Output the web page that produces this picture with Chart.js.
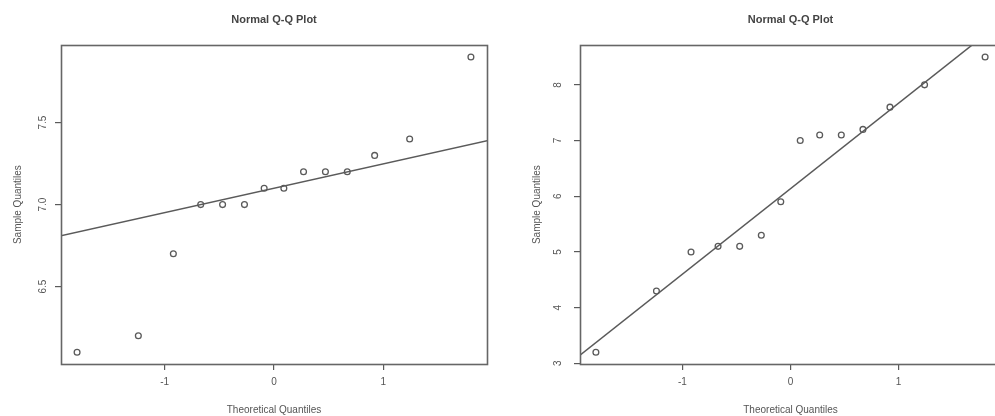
<!DOCTYPE html>
<html lang="en">
<head>
    <meta charset="UTF-8">
    <script src="https://cdn.jsdelivr.net/npm/chart.js@4.4.1/dist/chart.umd.min.js"></script>
    <title>Normal Q-Q Plots</title>
    <style>
        html, body {
            margin: 0;
            padding: 0;
            background: #fff;
            overflow: hidden;
            width: 995px;
            height: 416px;
        }

        #qqLeft, #qqRight {
            position: absolute;
            top: 0;
        }

        #qqLeft { left: 0; }
        #qqRight { left: 497px; }
    </style>
</head>
<body>
    <canvas id="qqLeft" width="497" height="416"></canvas>
    <canvas id="qqRight" width="530" height="416"></canvas>
    <script>
        // theoretical normal quantiles (same 14 positions in both plots)
        const theoretical = [-1.80, -1.24, -0.92, -0.67, -0.47, -0.27, -0.09, 0.09, 0.27, 0.47, 0.67, 0.92, 1.24, 1.80];

        // sorted sample values
        const sampleLeft = [6.1, 6.2, 6.7, 7.0, 7.0, 7.0, 7.1, 7.1, 7.2, 7.2, 7.2, 7.3, 7.4, 7.9];
        const sampleRight = [3.2, 4.3, 5.0, 5.1, 5.1, 5.3, 5.9, 7.0, 7.1, 7.1, 7.2, 7.6, 8.0, 8.5];

        // reference line ends (qqline)
        const lineX = [-1.95, 1.95];
        const lineLeftY = [6.81, 7.39];
        const lineRightY = [3.14, 9.13];

        // ticks
        const xTicks = [-1, 0, 1];
        const xTickLabels = ['\u22121', '0', '1'];
        const yTicksLeft = [6.5, 7.0, 7.5];
        const yTickLabelsLeft = ['6.5', '7.0', '7.5'];
        const yTicksRight = [3, 4, 5, 6, 7, 8];
        const yTickLabelsRight = ['3', '4', '5', '6', '7', '8'];

        const ink = '#5a5a5a';
        const fontFamily = '"Liberation Sans", Arial, Helvetica, sans-serif';

        // R draws a full box round the plot region
        const boxPlugin = {
            id: 'box',
            afterDraw(chart) {
                const a = chart.chartArea;
                const ctx = chart.ctx;
                ctx.save();
                ctx.strokeStyle = '#666';
                ctx.lineWidth = 1.6;
                ctx.strokeRect(Math.round(a.left) + 0.5, Math.round(a.top) + 0.5,
                    Math.round(a.right - a.left), Math.round(a.bottom - a.top));
                ctx.restore();
            }
        };

        function toPoints(xs, ys) {
            return xs.map((x, i) => ({ x: x, y: ys[i] }));
        }

        function fixedTicks(values, labels) {
            return function (scale) {
                scale.ticks = values.map((v, i) => ({ value: v, label: labels[i] }));
            };
        }

        function makeQQ(canvasId, sample, lineY, yMin, yMax, yTicks, yLabels, cfg) {
            const ctx = document.getElementById(canvasId).getContext('2d');
            return new Chart(ctx, {
                type: 'scatter',
                data: {
                    datasets: [
                        {
                            data: toPoints(theoretical, sample),
                            pointStyle: 'circle',
                            pointRadius: 2.9,
                            borderWidth: 1.3,
                            borderColor: ink,
                            backgroundColor: 'rgba(0,0,0,0)'
                        },
                        {
                            type: 'line',
                            data: toPoints(lineX, lineY),
                            borderColor: ink,
                            borderWidth: 1.5,
                            pointRadius: 0,
                            fill: false
                        }
                    ]
                },
                options: {
                    responsive: false,
                    animation: false,
                    devicePixelRatio: 1,
                    layout: { padding: { top: 0, right: cfg.padRight, bottom: 0, left: 0 } },
                    plugins: {
                        legend: { display: false },
                        tooltip: { enabled: false },
                        title: {
                            display: true,
                            text: 'Normal Q-Q Plot',
                            fullSize: false,
                            color: '#444',
                            font: { family: fontFamily, size: 11, weight: 'bold', lineHeight: 1.2 },
                            padding: { top: 13, bottom: 19 }
                        }
                    },
                    scales: {
                        x: {
                            type: 'linear',
                            min: -1.947,
                            max: 1.947,
                            afterBuildTicks: fixedTicks(xTicks, xTickLabels),
                            afterFit: s => { s.height = 52; },
                            border: { display: false },
                            grid: { drawOnChartArea: false, drawTicks: true, tickLength: 6, color: ink, lineWidth: 1.2 },
                            ticks: { color: '#555', padding: 6, maxRotation: 0, font: { family: fontFamily, size: 10 } },
                            title: {
                                display: true,
                                text: 'Theoretical Quantiles',
                                color: '#555',
                                font: { family: fontFamily, size: 10, lineHeight: 1.2 },
                                padding: { top: 0, bottom: 0 }
                            }
                        },
                        y: {
                            type: 'linear',
                            min: yMin,
                            max: yMax,
                            afterBuildTicks: fixedTicks(yTicks, yLabels),
                            afterFit: s => { s.width = cfg.axisWidth; },
                            border: { display: false },
                            grid: { drawOnChartArea: false, drawTicks: true, tickLength: 6, color: ink, lineWidth: 1.2 },
                            ticks: {
                                color: '#555',
                                padding: cfg.tickPad,
                                minRotation: 90,
                                maxRotation: 90,
                                crossAlign: 'center',
                                font: { family: fontFamily, size: 10 }
                            },
                            title: {
                                display: true,
                                text: 'Sample Quantiles',
                                color: '#555',
                                font: { family: fontFamily, size: 10, lineHeight: 1.2 },
                                padding: { top: cfg.titlePad, bottom: 0 }
                            }
                        }
                    }
                },
                plugins: [boxPlugin]
            });
        }

        makeQQ('qqLeft', sampleLeft, lineLeftY, 6.028, 7.972, yTicksLeft, yTickLabelsLeft,
            { axisWidth: 61, tickPad: 5, titlePad: 12, padRight: 10 });
        // right panel runs past the window edge, as in the reference
        makeQQ('qqRight', sampleRight, lineRightY, 2.988, 8.712, yTicksRight, yTickLabelsRight,
            { axisWidth: 83, tickPad: 13, titlePad: 34, padRight: 26 });
    </script>
</body>
</html>
